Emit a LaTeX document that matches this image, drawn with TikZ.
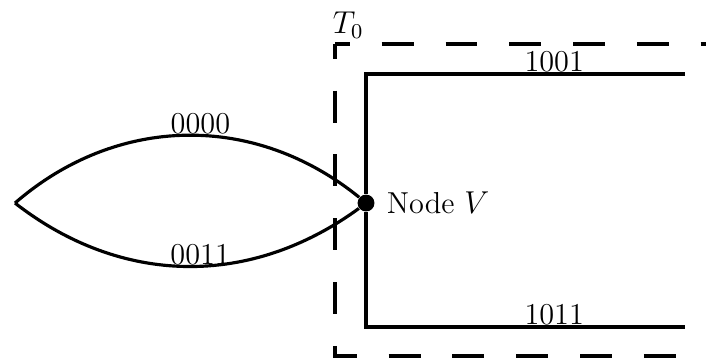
\documentclass[tikz,border=0pt]{standalone}
\usepackage{tikz}
\usetikzlibrary{positioning}

\begin{document}
\begin{tikzpicture}[
  every node/.style={font=\fontsize{11.5}{14}\selectfont},
  dot/.style={circle,fill=black,inner sep=0pt,minimum size=6.4pt},
  wire/.style={line width=1.2pt},
  zone/.style={line width=1.5pt,dash pattern=on 12.1pt off 12.1pt,dash phase=6.5pt},
  lbl/.style={above,inner sep=0pt}]
\clip (0,0) rectangle (9.413,4.84);
% corners of the dashed region T_0
\coordinate (tl) at (4.467,4.253);
\coordinate (tr) at (9.8,4.253);
\coordinate (bl) at (4.467,0.093);
\coordinate (br) at (9.8,0.093);
\draw[zone] (tl) -- (tr);
\draw[zone] (tl) -- (bl) -- (br);
\node[above right=2pt and -1pt of tl,inner sep=0pt] (t0) {$T_0$};
% the node and its links
\coordinate (L) at (0.2,2.133);
\node[dot] (V) at (4.88,2.133) {};
\node[right=1pt of V] (vlab) {Node $V$};
\draw[wire] (L) to[bend left=40] node[lbl,pos=0.54] (c0) {0000} (V);
\draw[wire] (L) to[bend right=37] node[lbl,pos=0.54] (c3) {0011} (V);
\coordinate (ua) at (4.88,3.853);
\coordinate (ub) at (9.133,3.853);
\coordinate (la) at (4.88,0.48);
\coordinate (lb) at (9.133,0.48);
\draw[wire] (V) -- (ua) -- node[lbl,pos=0.59] (c9) {1001} (ub);
\draw[wire] (V) -- (la) -- node[lbl,pos=0.59] (c11) {1011} (lb);
\end{tikzpicture}
\end{document}
